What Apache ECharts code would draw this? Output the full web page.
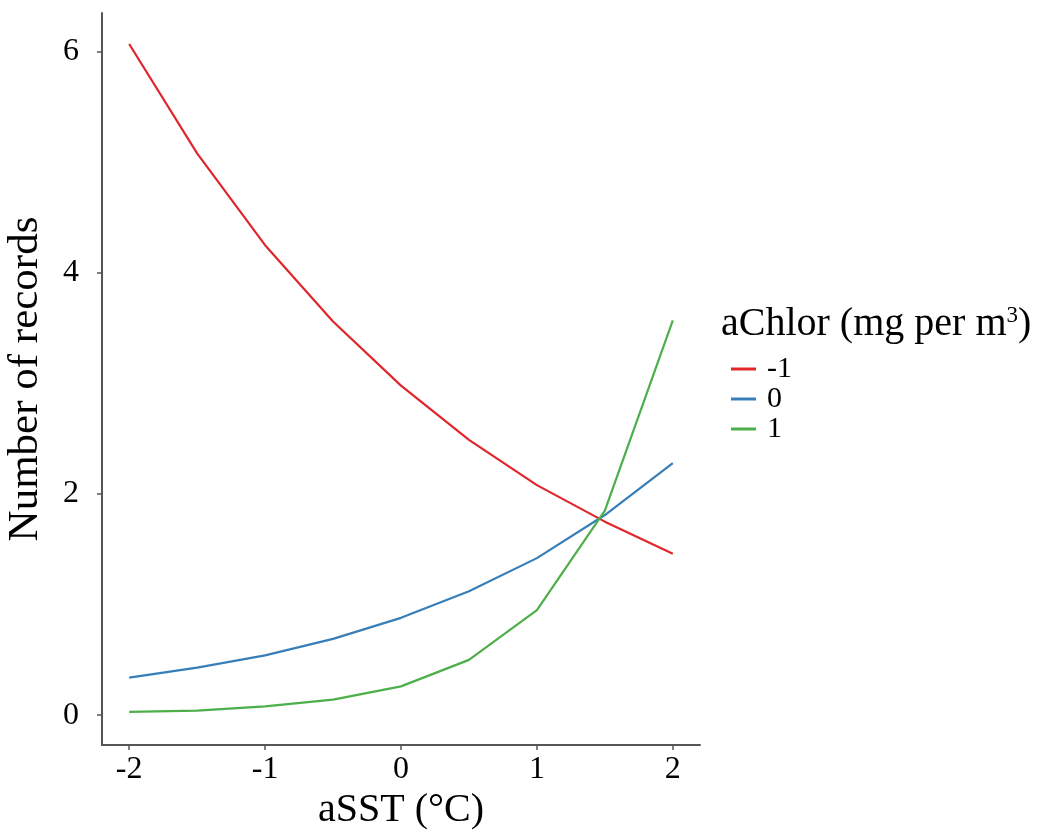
<!DOCTYPE html>
<html>
<head>
<meta charset="utf-8">
<script src="https://cdn.jsdelivr.net/npm/echarts@6/dist/echarts.min.js"></script>
<style>html,body{margin:0;padding:0;background:#fff}#c{width:1039px;height:838px}</style>
</head>
<body>
<div id="c"></div>
<script>
const xValues = [-2, -1.5, -1, -0.5, 0, 0.5, 1, 1.5, 2];
const seriesNames = ['-1', '0', '1'];
const redValues = [6.07, 5.08, 4.25, 3.56, 2.98, 2.49, 2.08, 1.75, 1.46];
const blueValues = [0.34, 0.43, 0.54, 0.69, 0.88, 1.12, 1.42, 1.81, 2.28];
const greenValues = [0.03, 0.04, 0.08, 0.14, 0.26, 0.50, 0.95, 1.85, 3.57];
const xTicks = [-2, -1, 0, 1, 2];
const yTicks = [0, 2, 4, 6];

const colors = ['#e0262b', '#377eb8', '#4daf4a'];
const allValues = [redValues, blueValues, greenValues];
const font = '"Liberation Serif", "Times New Roman", serif';

const chart = echarts.init(document.getElementById('c'), null, {renderer: 'canvas'});
const series = seriesNames.map((n, i) => ({
  name: n,
  type: 'line',
  data: xValues.map((x, j) => [x, allValues[i][j]]),
  showSymbol: false,
  symbol: 'none',
  lineStyle: {color: colors[i], width: 2.2},
  itemStyle: {color: colors[i]},
  animation: false
}));

chart.setOption({
  animation: false,
  backgroundColor: '#fff',
  grid: {left: 102, right: 339, top: 13, bottom: 93, containLabel: false, outerBoundsMode: 'none'},
  title: {
    text: 'aChlor (mg per m{sup|3})',
    left: 716, top: 299,
    textStyle: {
      fontFamily: font, fontSize: 40, fontWeight: 'normal', color: '#000',
      rich: {sup: {fontFamily: font, fontSize: 23, verticalAlign: 'top', padding: [0, 0, 17, 0], color: '#000'}}
    }
  },
  legend: {
    orient: 'vertical',
    left: 726, top: 349,
    itemGap: 0,
    itemWidth: 25, itemHeight: 3,
    icon: 'rect',
    data: seriesNames.map((n, i) => ({name: n, itemStyle: {color: colors[i]}})),
    textStyle: {fontFamily: font, fontSize: 30, color: '#000', lineHeight: 30, padding: [0, 0, 0, 6]},
    selectedMode: false
  },
  xAxis: {
    type: 'value', min: -2.2, max: 2.2,
    name: 'aSST (°C)', nameLocation: 'middle', nameGap: 40,
    nameTextStyle: {fontFamily: font, fontSize: 40, color: '#000'},
    axisLine: {show: true, onZero: false, lineStyle: {color: '#555', width: 2}},
    axisTick: {show: true, length: 5, lineStyle: {color: '#555', width: 1.5}, customValues: xTicks},
    axisLabel: {fontFamily: font, fontSize: 32, color: '#000', margin: 9, customValues: xTicks, formatter: v => String(v)},
    splitLine: {show: false}
  },
  yAxis: {
    type: 'value', min: -0.27, max: 6.35,
    name: 'Number of records', nameLocation: 'middle', nameGap: 55,
    nameTextStyle: {fontFamily: font, fontSize: 43, color: '#000'},
    axisLine: {show: true, onZero: false, lineStyle: {color: '#555', width: 2}},
    axisTick: {show: true, length: 5, lineStyle: {color: '#555', width: 1.5}, customValues: yTicks},
    axisLabel: {fontFamily: font, fontSize: 32, color: '#000', margin: 23, customValues: yTicks, formatter: v => String(v)},
    splitLine: {show: false}
  },
  series: series
});
</script>
</body>
</html>
